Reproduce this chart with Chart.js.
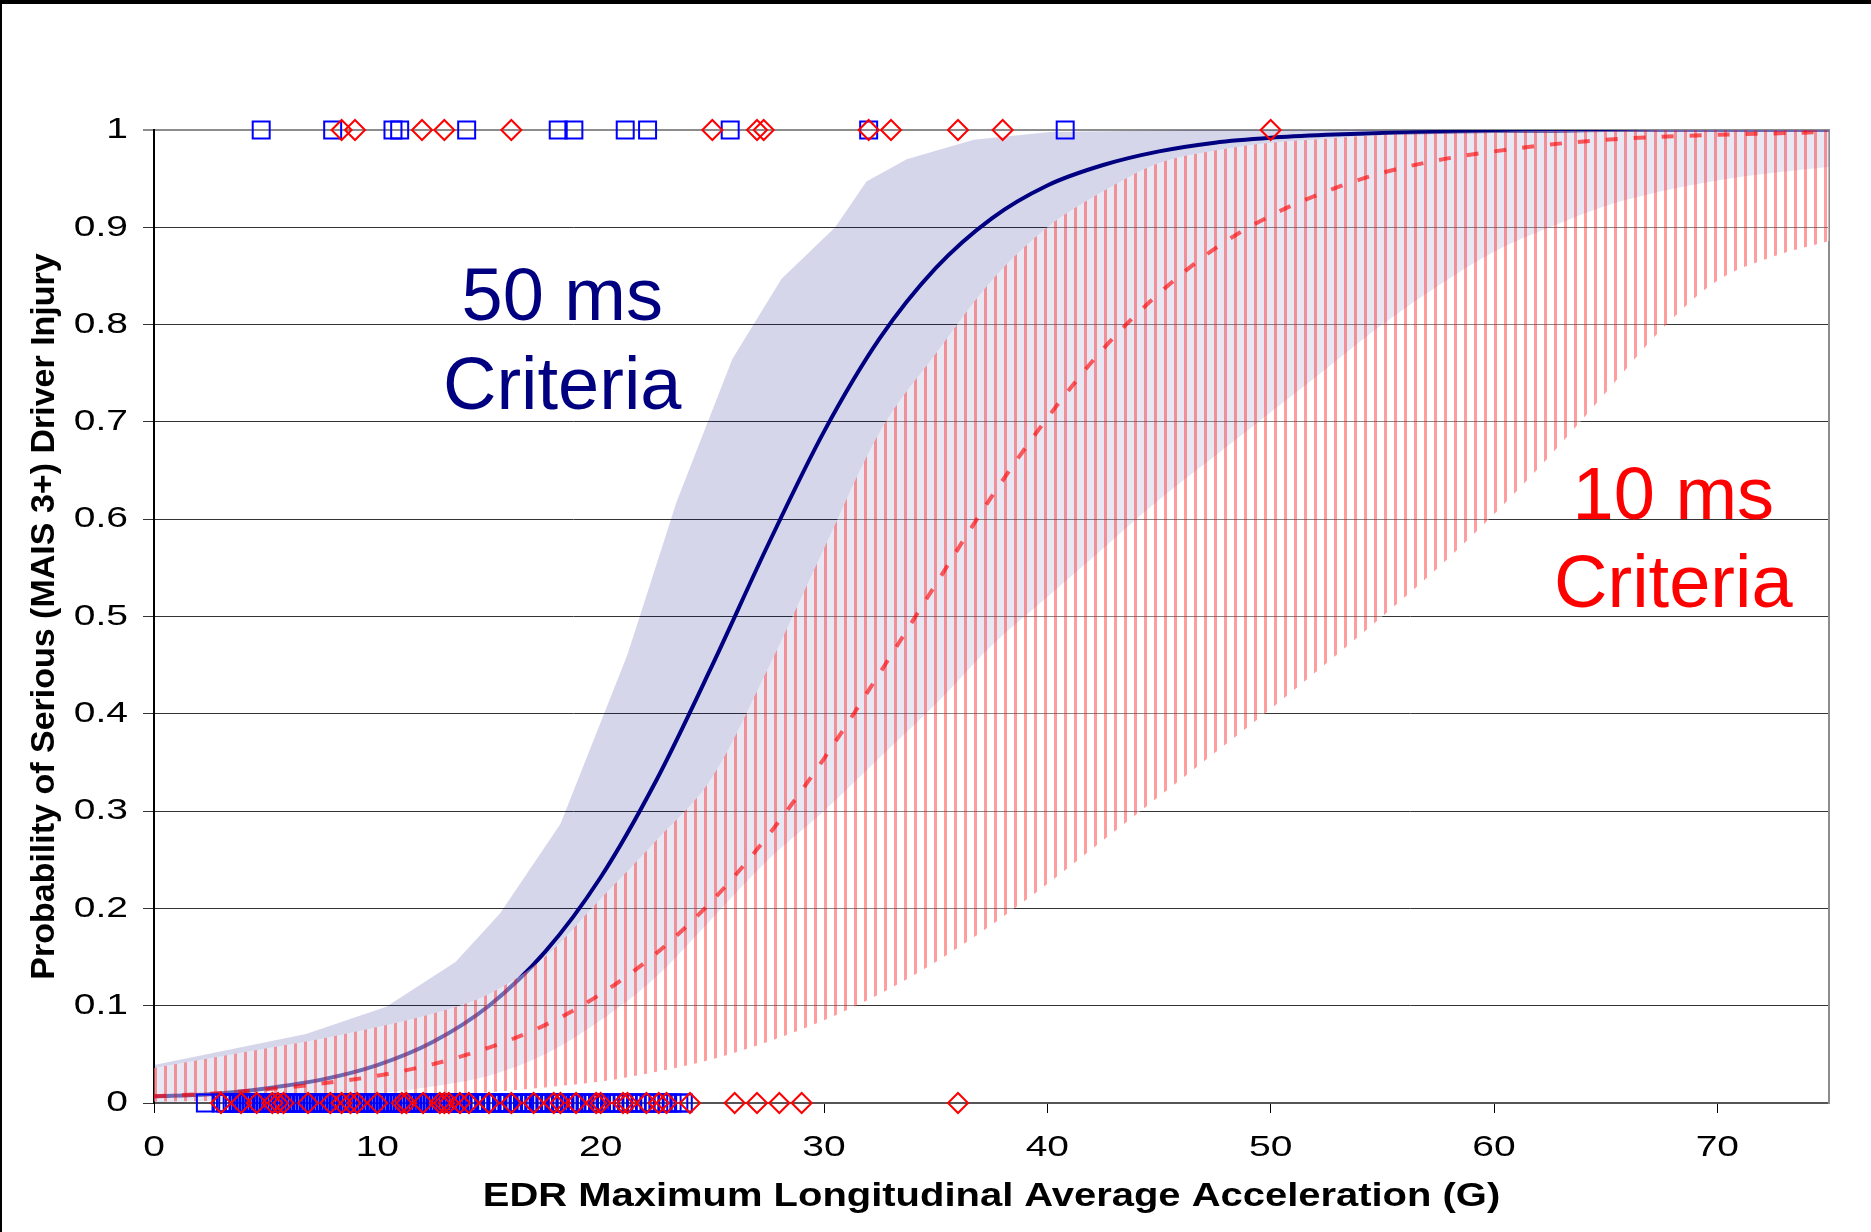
<!DOCTYPE html>
<html>
<head>
<meta charset="utf-8">
<title>Probability of Serious (MAIS 3+) Driver Injury</title>
<script src="https://cdn.jsdelivr.net/npm/chart.js@4.4.1/dist/chart.umd.min.js"></script>
<style>
    html, body { margin: 0; padding: 0; background: #fff; }
</style>
</head>
<body>
<canvas id="injury-chart" width="1871" height="1232"></canvas>
<script>
(function () {
    'use strict';

    //X VALUES THE CURVES WERE READ AT
    var accelSteps = [0, 2.5, 5, 7.5, 10, 12.5, 15, 17.5, 20, 22.5, 25, 27.5, 30, 32.5, 35, 37.5,
        40, 42.5, 45, 47.5, 50, 52.5, 55, 57.5, 60, 62.5, 65, 67.5, 70, 72.5, 75];

    //50 MS CRITERIA: FITTED CURVE AND CONFIDENCE BAND
    var fit50 = [0.007, 0.009, 0.015, 0.024, 0.039, 0.063, 0.100, 0.155, 0.232, 0.332, 0.450, 0.574,
        0.690, 0.786, 0.858, 0.909, 0.943, 0.964, 0.978, 0.987, 0.992, 0.995, 0.997, 0.998, 0.999,
        0.999, 1, 1, 1, 1, 1];
    //UPPER EDGE OF THE 50 MS BAND IS A BROKEN LINE, READ AT ITS CORNERS
    var upper50Steps = [0, 6.8, 10.4, 13.5, 15.5, 18.2, 21.2, 23.4, 25.9, 28.1, 30.5, 31.9, 33.7, 36.7,
        40.1, 46.5, 75];
    var upper50 = [0.039, 0.071, 0.099, 0.145, 0.195, 0.287, 0.461, 0.618, 0.765, 0.847, 0.900, 0.947,
        0.970, 0.990, 0.998, 1, 1];
    var lower50 = [0.001, 0.002, 0.003, 0.006, 0.010, 0.017, 0.028, 0.050, 0.085, 0.130, 0.190, 0.250,
        0.300, 0.355, 0.410, 0.470, 0.520, 0.570, 0.620, 0.665, 0.710, 0.755, 0.800, 0.840, 0.875,
        0.900, 0.922, 0.937, 0.948, 0.956, 0.962];

    //10 MS CRITERIA: FITTED CURVE AND CONFIDENCE BAND
    var fit10 = [0.007, 0.0095, 0.014, 0.020, 0.028, 0.040, 0.057, 0.080, 0.112, 0.154, 0.208, 0.275,
        0.354, 0.442, 0.533, 0.623, 0.704, 0.775, 0.832, 0.878, 0.912, 0.937, 0.956, 0.969, 0.978,
        0.985, 0.990, 0.993, 0.995, 0.9965, 0.998];
    var upper10 = [0.036, 0.046, 0.056, 0.066, 0.078, 0.092, 0.112, 0.150, 0.210, 0.270, 0.335, 0.447,
        0.570, 0.690, 0.770, 0.845, 0.900, 0.937, 0.966, 0.979, 0.987, 0.991, 0.995, 0.997, 0.998,
        0.999, 0.999, 1, 1, 1, 1];
    var lower10 = [0.0015, 0.002, 0.003, 0.004, 0.006, 0.008, 0.011, 0.016, 0.022, 0.032, 0.045, 0.063,
        0.085, 0.112, 0.145, 0.183, 0.225, 0.270, 0.315, 0.360, 0.405, 0.452, 0.500, 0.550, 0.605,
        0.665, 0.730, 0.795, 0.845, 0.870, 0.886];

    //OBSERVED CRASHES (INJURED = 1, NOT INJURED = 0)
    var injured50 = [4.8, 8.0, 10.7, 11.0, 14.0, 18.1, 18.8, 21.1, 22.1, 25.8, 32.0, 40.8];
    var uninjured50 = [2.3, 3.0, 3.2, 3.3, 3.5, 3.6, 3.8, 3.9, 4.1, 4.2, 4.4, 4.5, 4.7, 4.8, 5.0, 5.1,
        5.3, 5.4, 5.6, 5.7, 5.9, 6.0, 6.2, 6.3, 6.5, 6.6, 6.8, 6.9, 7.1, 7.2, 7.4, 7.5, 7.7, 7.8, 8.0,
        8.1, 8.3, 8.4, 8.6, 8.7, 8.9, 9.0, 9.2, 9.3, 9.5, 9.6, 9.8, 9.9, 10.1, 10.2, 10.4, 10.5, 10.7,
        10.8, 11.0, 11.1, 11.3, 11.4, 11.6, 11.7, 11.9, 12.0, 12.2, 12.3, 12.5, 12.6, 12.8, 12.9, 13.1,
        13.2, 13.4, 13.5, 13.7, 13.8, 14.0, 14.1, 14.3, 14.4, 14.6, 14.8, 14.9, 15.1, 15.3, 15.4, 15.6,
        15.8, 15.9, 16.1, 16.3, 16.5, 16.6, 16.8, 17.0, 17.2, 17.3, 17.5, 17.7, 17.9, 18.0, 18.2, 18.4,
        18.6, 18.8, 18.9, 19.1, 19.3, 19.5, 19.7, 19.9, 20.0, 20.2, 20.4, 20.6, 20.8, 21.0, 21.2, 21.4,
        21.6, 21.8, 22.0, 22.2, 22.4, 22.6, 22.8, 23.0, 23.2, 23.5, 23.7];
    var injured10 = [8.4, 9.0, 12.0, 13.0, 16.0, 25.0, 27.0, 27.3, 32.0, 33.0, 36.0, 38.0, 50.0];
    var uninjured10 = [3.0, 3.9, 4.6, 5.3, 5.55, 5.8, 6.9, 7.9, 8.4, 8.8, 9.1, 10.0, 11.1, 11.3, 12.05,
        12.8, 13.0, 13.2, 13.7, 14.1, 15.0, 16.0, 17.0, 17.9, 18.2, 18.9, 19.8, 20.0, 21.0, 21.2, 22.05,
        22.6, 22.95, 24.0, 26.0, 27.0, 28.0, 29.0, 36.0];

    //TICK LABELS
    var xTickLabels = ['0', '10', '20', '30', '40', '50', '60', '70'];
    var yTickLabels = ['0', '0.1', '0.2', '0.3', '0.4', '0.5', '0.6', '0.7', '0.8', '0.9', '1'];
    var xTitle = 'EDR Maximum Longitudinal Average Acceleration (G)';
    var yTitle = 'Probability of Serious (MAIS 3+) Driver Injury';

    var FONT = "'Liberation Sans', Arial, sans-serif";

    function toPoints(xs, ys) {
        return xs.map(function (x, i) {
            return { x: x, y: ys[i] };
        });
    }

    function atLevel(xs, level) {
        return xs.map(function (x) {
            return { x: x, y: level };
        });
    }

    //TEXT IN THE ORIGINAL IS WIDENED, SO DRAW IT WITH A HORIZONTAL SCALE
    function wideText(c, text, x, y, sx, align) {
        c.save();
        c.translate(x, y);
        c.scale(sx, 1);
        c.textAlign = align;
        c.fillText(text, 0, 0);
        c.restore();
    }

    var canvas = document.getElementById('injury-chart');
    var ctx = canvas.getContext('2d');

    //VERTICAL RED HATCH FOR THE 10 MS BAND
    var tile = document.createElement('canvas');
    tile.width = 10;
    tile.height = 10;
    var t = tile.getContext('2d');
    t.fillStyle = 'rgba(255,255,255,0.42)';
    t.fillRect(0, 0, 10, 10);
    t.fillStyle = 'rgba(255,0,0,0.38)';
    t.fillRect(4, 0, 3, 10);
    var hatch = ctx.createPattern(tile, 'repeat');

    //BIG CAPTIONS INSIDE THE PLOT
    var captions = [
        { text: '50 ms', x: 18.28, y: 0.805, color: '#000080' },
        { text: 'Criteria', x: 18.28, y: 0.713, color: '#000080' },
        { text: '10 ms', x: 68.03, y: 0.600, color: '#ff0000' },
        { text: 'Criteria', x: 68.03, y: 0.510, color: '#ff0000' }
    ];

    var captionPlugin = {
        id: 'captions',
        afterDatasetsDraw: function (chart) {
            var c = chart.ctx;
            c.save();
            c.font = '74px ' + FONT;
            c.textAlign = 'center';
            c.textBaseline = 'alphabetic';
            captions.forEach(function (cap) {
                c.fillStyle = cap.color;
                c.fillText(cap.text, chart.scales.x.getPixelForValue(cap.x), chart.scales.y.getPixelForValue(cap.y));
            });
            c.restore();
        }
    };

    //TICK LABELS AND X TITLE, PLACED WITH THE CHART'S OWN SCALES
    var axisTextPlugin = {
        id: 'axisText',
        afterDraw: function (chart) {
            var c = chart.ctx;
            var xs = chart.scales.x;
            var ys = chart.scales.y;
            c.save();
            c.fillStyle = '#000';
            c.textBaseline = 'middle';
            c.font = '30px ' + FONT;
            xTickLabels.forEach(function (lbl) {
                wideText(c, lbl, xs.getPixelForValue(parseFloat(lbl)), xs.top + 45, 1.3, 'center');
            });
            yTickLabels.forEach(function (lbl) {
                wideText(c, lbl, ys.right - 26, ys.getPixelForValue(parseFloat(lbl)), 1.3, 'right');
            });
            c.font = 'bold 34px ' + FONT;
            wideText(c, xTitle, (xs.left + xs.right) / 2, xs.top + 94, 1.175, 'center');
            c.restore();
        }
    };

    var framePlugin = {
        id: 'frame',
        afterDraw: function (chart) {
            var c = chart.ctx;
            c.save();
            c.fillStyle = '#000';
            c.fillRect(0, 0, chart.width, 4);
            c.fillRect(0, 0, 2, chart.height);
            c.restore();
        }
    };

    var markerBase = {
        showLine: false,
        backgroundColor: 'rgba(0,0,0,0)',
        pointBorderWidth: 2,
        pointHoverRadius: 0,
        clip: false
    };

    var bandBase = {
        borderColor: 'rgba(0,0,0,0)',
        borderWidth: 0,
        pointRadius: 0,
        cubicInterpolationMode: 'monotone'
    };

    new Chart(canvas, {
        type: 'line',
        data: {
            datasets: [
                Object.assign({}, markerBase, {
                    label: '10 ms observed',
                    data: atLevel(injured10, 1).concat(atLevel(uninjured10, 0)),
                    pointStyle: 'rectRot',
                    pointRadius: 10,
                    borderColor: '#ff0000',
                    order: 0
                }),
                Object.assign({}, markerBase, {
                    label: '50 ms observed',
                    data: atLevel(injured50, 1).concat(atLevel(uninjured50, 0)),
                    pointStyle: 'rect',
                    pointRadius: 12,
                    borderColor: '#0000ff',
                    order: 1
                }),
                {
                    label: '10 ms Criteria',
                    data: toPoints(accelSteps, fit10),
                    borderColor: 'rgba(255,0,0,0.62)',
                    borderWidth: 4,
                    borderDash: [12, 16],
                    pointRadius: 0,
                    cubicInterpolationMode: 'monotone',
                    fill: false,
                    order: 2
                },
                Object.assign({}, bandBase, {
                    label: '10 ms lower',
                    data: toPoints(accelSteps, lower10),
                    fill: false,
                    order: 3
                }),
                Object.assign({}, bandBase, {
                    label: '10 ms upper',
                    data: toPoints(accelSteps, upper10),
                    fill: 3,
                    backgroundColor: hatch,
                    order: 3
                }),
                {
                    label: '50 ms Criteria',
                    data: toPoints(accelSteps, fit50),
                    borderColor: '#000080',
                    borderWidth: 4,
                    pointRadius: 0,
                    cubicInterpolationMode: 'monotone',
                    fill: false,
                    order: 4
                },
                Object.assign({}, bandBase, {
                    label: '50 ms lower',
                    data: toPoints(accelSteps, lower50),
                    fill: false,
                    order: 5
                }),
                Object.assign({}, bandBase, {
                    label: '50 ms upper',
                    data: toPoints(upper50Steps, upper50),
                    cubicInterpolationMode: 'default',
                    tension: 0,
                    fill: 6,
                    backgroundColor: 'rgba(0,0,128,0.16)',
                    order: 5
                })
            ]
        },
        options: {
            responsive: false,
            animation: false,
            devicePixelRatio: 1,
            events: [],
            layout: { padding: { top: 130, left: 0, right: 0, bottom: 0 } },
            plugins: {
                legend: { display: false },
                tooltip: { enabled: false }
            },
            scales: {
                x: {
                    type: 'linear',
                    position: 'bottom',
                    min: 0,
                    max: 75,
                    afterFit: function (scale) { scale.height = 129; },
                    ticks: {
                        stepSize: 10,
                        includeBounds: false,
                        display: false
                    },
                    grid: {
                        drawOnChartArea: false,
                        drawTicks: true,
                        tickLength: 10,
                        color: '#000',
                        lineWidth: 1
                    },
                    border: { color: '#555', width: 2 }
                },
                y: {
                    type: 'linear',
                    position: 'left',
                    min: 0,
                    max: 1,
                    afterFit: function (scale) { scale.width = 154; },
                    ticks: {
                        stepSize: 0.1,
                        display: false
                    },
                    grid: {
                        tickLength: 11,
                        color: function (c) {
                            return c.tick && c.tick.value === 1 ? '#8c8c8c' : '#333';
                        },
                        lineWidth: function (c) {
                            return c.tick && c.tick.value === 1 ? 2 : 1;
                        }
                    },
                    border: { color: '#000', width: 2 },
                    title: {
                        display: true,
                        text: yTitle,
                        color: '#000',
                        font: { family: FONT, size: 34, weight: 'bold' },
                        padding: { top: 24, bottom: 0 }
                    }
                },
                yRight: {
                    type: 'linear',
                    position: 'right',
                    min: 0,
                    max: 1,
                    afterFit: function (scale) { scale.width = 42; },
                    ticks: { display: false },
                    grid: { display: false },
                    border: { color: '#8c8c8c', width: 2 }
                }
            }
        },
        plugins: [captionPlugin, axisTextPlugin, framePlugin]
    });
})();
</script>
</body>
</html>
